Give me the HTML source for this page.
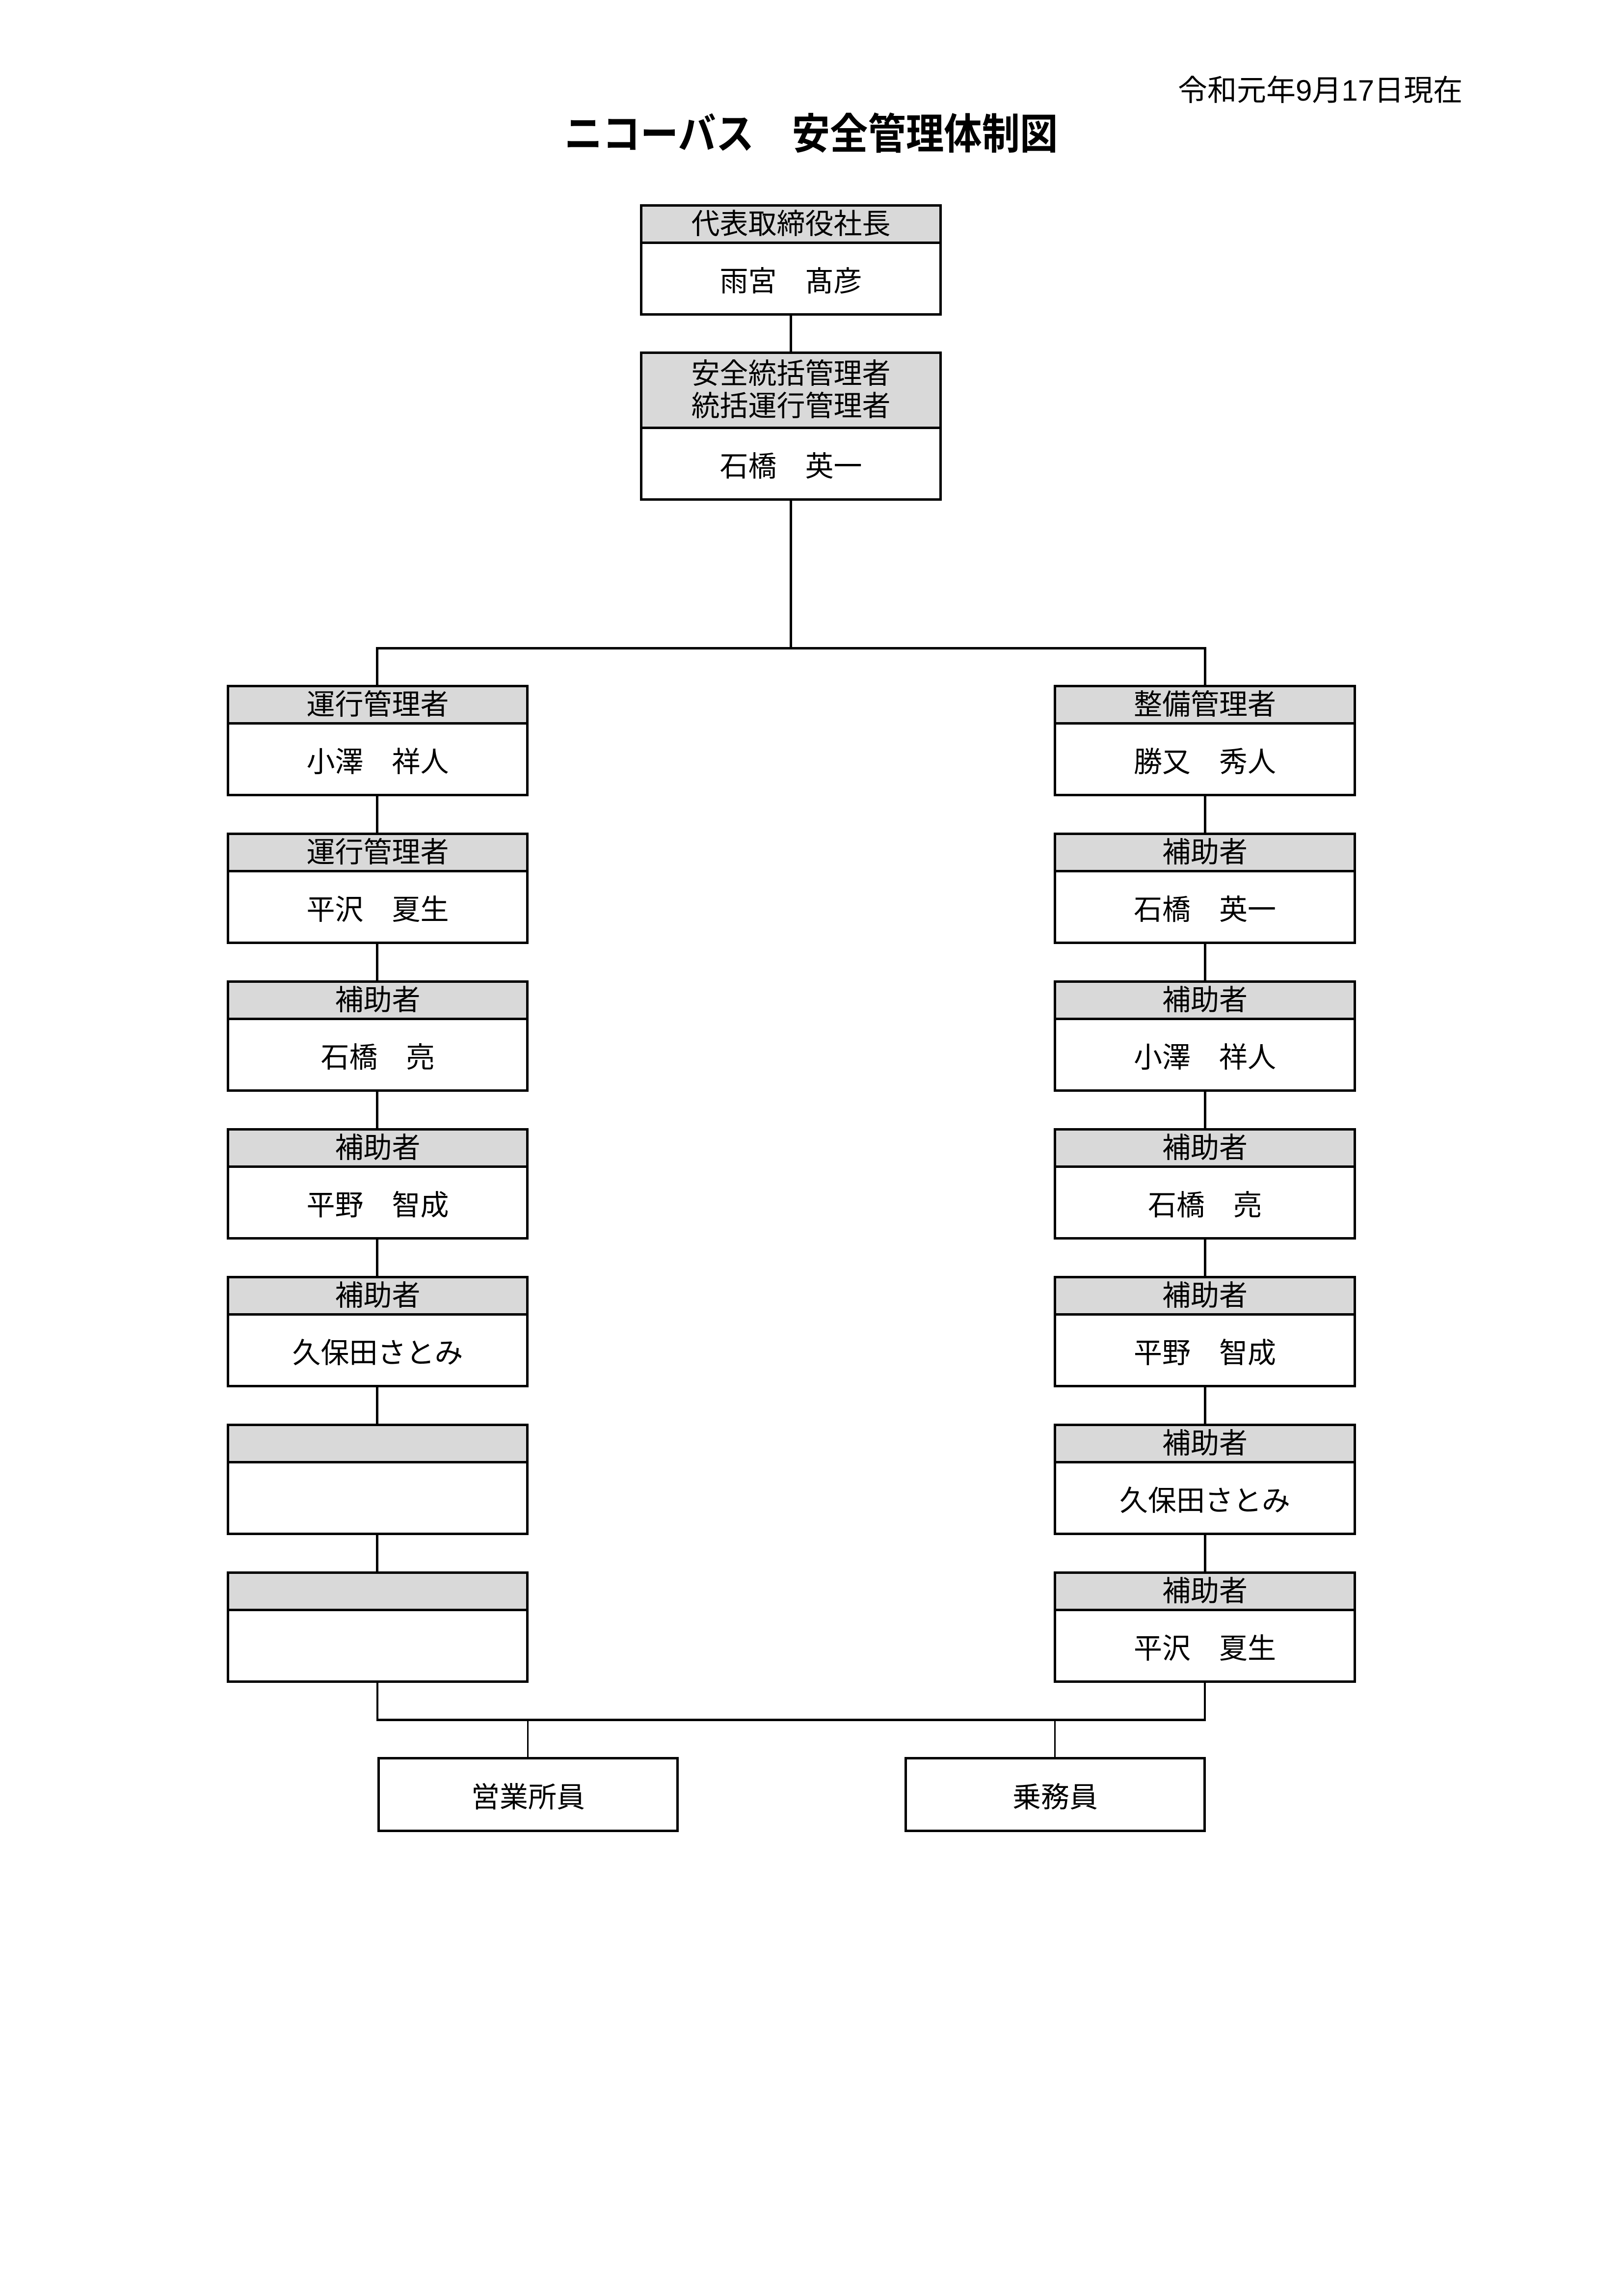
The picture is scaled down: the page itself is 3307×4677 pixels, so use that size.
<!DOCTYPE html>
<html><head><meta charset="utf-8">
<style>
html,body{margin:0;padding:0;background:#fff;}
body{width:3307px;height:4677px;position:relative;overflow:hidden;font-family:"Liberation Sans","Noto Sans CJK JP",sans-serif;color:#000;}
.a{position:absolute;}
.box{position:absolute;border:5px solid #000;box-sizing:border-box;background:#fff;display:flex;flex-direction:column;}
.hd{background:#d9d9d9;border-bottom:5px solid #000;box-sizing:border-box;display:flex;align-items:center;justify-content:center;font-size:58px;line-height:66px;text-align:center;}
.nm{flex:1;display:flex;align-items:center;justify-content:center;font-size:58px;}
.l{position:absolute;background:#000;}
</style></head><body>
<div class="a" style="left:2400px;top:150px;font-size:60px;line-height:70px;white-space:nowrap;">令和元年9月17日現在</div>
<div class="a" style="left:1150px;top:228px;font-size:86px;line-height:92px;font-weight:bold;white-space:nowrap;transform:scaleX(0.9);transform-origin:0 0;">ニコーバス　安全管理体制図</div>

<div class="box" style="left:1304px;top:416px;width:615px;height:227px;"><div class="hd" style="height:76px;">代表取締役社長</div><div class="nm">雨宮　髙彦</div></div>
<div class="l" style="left:1609px;top:642px;width:5px;height:75px;"></div>
<div class="box" style="left:1304px;top:716px;width:615px;height:304px;"><div class="hd" style="height:153px;">安全統括管理者<br>統括運行管理者</div><div class="nm">石橋　英一</div></div>
<div class="l" style="left:1609px;top:1019px;width:5px;height:303px;"></div>
<div class="l" style="left:766px;top:1318px;width:1692px;height:5px;"></div>
<div class="l" style="left:766px;top:1318px;width:5px;height:80px;"></div>
<div class="l" style="left:2453px;top:1318px;width:5px;height:80px;"></div>

<div class="box" style="left:462px;top:1395px;width:615px;height:227px;"><div class="hd" style="height:76px;">運行管理者</div><div class="nm">小澤　祥人</div></div>
<div class="box" style="left:462px;top:1696px;width:615px;height:227px;"><div class="hd" style="height:76px;">運行管理者</div><div class="nm">平沢　夏生</div></div>
<div class="box" style="left:462px;top:1997px;width:615px;height:227px;"><div class="hd" style="height:76px;">補助者</div><div class="nm">石橋　亮</div></div>
<div class="box" style="left:462px;top:2298px;width:615px;height:227px;"><div class="hd" style="height:76px;">補助者</div><div class="nm">平野　智成</div></div>
<div class="box" style="left:462px;top:2599px;width:615px;height:227px;"><div class="hd" style="height:76px;">補助者</div><div class="nm">久保田さとみ</div></div>
<div class="box" style="left:462px;top:2900px;width:615px;height:227px;"><div class="hd" style="height:76px;"></div><div class="nm"></div></div>
<div class="box" style="left:462px;top:3201px;width:615px;height:227px;"><div class="hd" style="height:76px;"></div><div class="nm"></div></div>
<div class="l" style="left:766px;top:1621px;width:5px;height:76px;"></div>
<div class="l" style="left:766px;top:1922px;width:5px;height:76px;"></div>
<div class="l" style="left:766px;top:2223px;width:5px;height:76px;"></div>
<div class="l" style="left:766px;top:2524px;width:5px;height:76px;"></div>
<div class="l" style="left:766px;top:2825px;width:5px;height:76px;"></div>
<div class="l" style="left:766px;top:3126px;width:5px;height:76px;"></div>

<div class="box" style="left:2147px;top:1395px;width:616px;height:227px;"><div class="hd" style="height:76px;">整備管理者</div><div class="nm">勝又　秀人</div></div>
<div class="box" style="left:2147px;top:1696px;width:616px;height:227px;"><div class="hd" style="height:76px;">補助者</div><div class="nm">石橋　英一</div></div>
<div class="box" style="left:2147px;top:1997px;width:616px;height:227px;"><div class="hd" style="height:76px;">補助者</div><div class="nm">小澤　祥人</div></div>
<div class="box" style="left:2147px;top:2298px;width:616px;height:227px;"><div class="hd" style="height:76px;">補助者</div><div class="nm">石橋　亮</div></div>
<div class="box" style="left:2147px;top:2599px;width:616px;height:227px;"><div class="hd" style="height:76px;">補助者</div><div class="nm">平野　智成</div></div>
<div class="box" style="left:2147px;top:2900px;width:616px;height:227px;"><div class="hd" style="height:76px;">補助者</div><div class="nm">久保田さとみ</div></div>
<div class="box" style="left:2147px;top:3201px;width:616px;height:227px;"><div class="hd" style="height:76px;">補助者</div><div class="nm">平沢　夏生</div></div>
<div class="l" style="left:2453px;top:1621px;width:5px;height:76px;"></div>
<div class="l" style="left:2453px;top:1922px;width:5px;height:76px;"></div>
<div class="l" style="left:2453px;top:2223px;width:5px;height:76px;"></div>
<div class="l" style="left:2453px;top:2524px;width:5px;height:76px;"></div>
<div class="l" style="left:2453px;top:2825px;width:5px;height:76px;"></div>
<div class="l" style="left:2453px;top:3126px;width:5px;height:76px;"></div>

<div class="l" style="left:767px;top:3427px;width:4px;height:79px;"></div>
<div class="l" style="left:2453px;top:3427px;width:4px;height:79px;"></div>
<div class="l" style="left:767px;top:3501px;width:1690px;height:5px;"></div>
<div class="l" style="left:1074px;top:3503px;width:3px;height:78px;"></div>
<div class="l" style="left:2148px;top:3503px;width:3px;height:78px;"></div>
<div class="box" style="left:769px;top:3579px;width:614px;height:153px;"><div class="nm">営業所員</div></div>
<div class="box" style="left:1843px;top:3579px;width:614px;height:153px;"><div class="nm">乗務員</div></div>
</body></html>
